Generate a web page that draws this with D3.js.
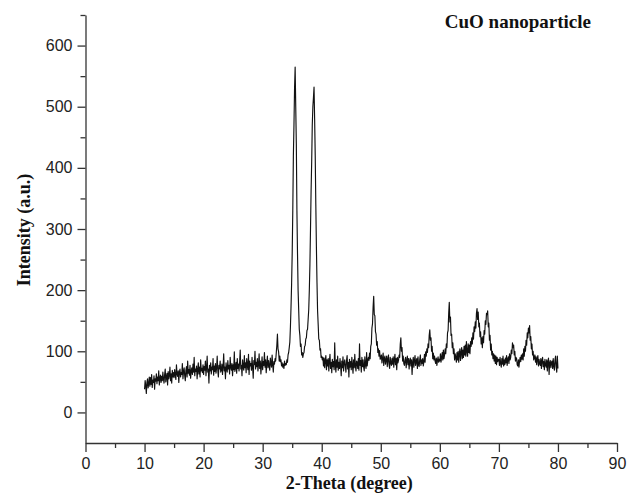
<!DOCTYPE html>
<html>
<head>
<meta charset="utf-8">
<script src="https://cdn.jsdelivr.net/npm/d3@7"></script>
<style>
  body { margin: 0; background: #fff; }
  .tick text { font-family: "Liberation Sans", Arial, sans-serif; font-size: 16px; fill: #222; }
  .axis-label { font-family: "Liberation Serif", "Times New Roman", serif; font-weight: bold; font-size: 18px; fill: #111; }
</style>
</head>
<body>
<svg width="635" height="498"></svg>
<script>
// XRD scan, 10-80 deg at 0.1 deg steps
const thetaStart = 10;
const thetaStep = 0.1;
const intensity = [
  38, 52, 44, 31, 49, 55, 40, 47, 58, 43,   // 10
  57, 46, 62, 41, 53, 49, 60, 38, 55, 51,   // 11
  63, 47, 58, 52, 68, 45, 56, 61, 49, 59,   // 12
  52, 66, 55, 48, 62, 71, 50, 58, 64, 45,   // 13
  67, 55, 61, 74, 52, 63, 48, 69, 58, 65,   // 14
  57, 70, 61, 54, 78, 63, 59, 68, 49, 66,   // 15
  71, 58, 65, 62, 80, 55, 67, 73, 60, 52,   // 16
  69, 75, 58, 84, 64, 70, 61, 77, 56, 68,   // 17
  73, 62, 79, 66, 90, 60, 71, 67, 76, 55,   // 18
  70, 81, 63, 74, 58, 86, 68, 72, 65, 78,   // 19
  62, 75, 69, 84, 60, 73, 92, 66, 71, 48,   // 20
  77, 68, 81, 63, 74, 70, 88, 61, 76, 67,   // 21
  80, 64, 73, 92, 69, 58, 77, 71, 84, 66,   // 22
  70, 79, 62, 75, 96, 68, 74, 55, 81, 72,   // 23
  66, 85, 71, 77, 63, 90, 74, 69, 80, 60,   // 24
  78, 70, 99, 67, 75, 82, 64, 88, 72, 79,   // 25
  68, 83, 102, 71, 77, 60, 86, 74, 69, 93,  // 26
  73, 81, 65, 88, 77, 70, 95, 62, 84, 76,   // 27
  80, 69, 90, 74, 56, 85, 78, 100, 71, 82,  // 28
  75, 88, 68, 79, 96, 72, 84, 63, 77, 91,   // 29
  70, 83, 77, 98, 74, 86, 65, 80, 92, 73,   // 30
  85, 76, 69, 89, 80, 74, 94, 78, 66, 83,   // 31
  79, 88, 84, 97, 110, 128, 104, 99, 84, 92, // 32
  83, 86, 76, 81, 74, 79, 72, 84, 77, 80,   // 33
  78, 86, 82, 94, 98, 106, 115, 140, 172, 210,     // 34
  260, 330, 420, 470, 530, 565, 500, 440, 330, 260, // 35
  200, 168, 136, 126, 108, 112, 94, 98, 90, 96,    // 36
  98, 108, 110, 120, 122, 134, 136, 152, 168, 200,  // 37
  242, 300, 362, 410, 470, 500, 515, 532, 480, 420, // 38
  340, 270, 212, 166, 144, 120, 118, 102, 104, 90, // 39
  92, 86, 90, 76, 89, 73, 85, 93, 70, 86,   // 40
  76, 88, 68, 84, 95, 72, 82, 65, 87, 75,   // 41
  83, 70, 114, 77, 66, 86, 74, 92, 69, 82,  // 42
  72, 88, 76, 60, 84, 73, 91, 68, 81, 86,   // 43
  75, 66, 85, 93, 71, 82, 58, 87, 74, 83,   // 44
  70, 90, 77, 64, 86, 73, 95, 76, 68, 84,   // 45
  82, 72, 88, 69, 112, 77, 85, 66, 90, 75,  // 46
  86, 74, 68, 91, 78, 72, 98, 76, 85, 90,   // 47
  85, 97, 88, 108, 112, 138, 145, 172, 190, 160, // 48
  158, 132, 128, 110, 116, 98, 104, 92, 101, 87, // 49
  90, 94, 81, 89, 97, 77, 88, 92, 79, 86,   // 50
  92, 75, 87, 94, 78, 72, 90, 81, 77, 88,   // 51
  79, 91, 74, 86, 95, 78, 88, 70, 90, 81,   // 52
  85, 94, 90, 112, 122, 100, 106, 84, 92, 80, // 53
  77, 86, 90, 73, 85, 92, 78, 88, 71, 84,   // 54
  89, 76, 86, 62, 82, 90, 74, 85, 93, 77,   // 55
  84, 88, 72, 91, 78, 75, 87, 94, 77, 86,   // 56
  80, 88, 76, 83, 95, 82, 99, 92, 104, 98,  // 57
  112, 106, 126, 135, 118, 122, 100, 108, 88, 97, // 58
  86, 92, 84, 80, 89, 77, 85, 91, 82, 87,   // 59
  84, 96, 82, 90, 98, 86, 102, 88, 94, 104, // 60
  96, 112, 106, 130, 134, 162, 180, 148, 156, 126, // 61
  128, 106, 114, 96, 104, 86, 96, 90, 82, 98,  // 62
  86, 100, 82, 96, 104, 85, 98, 106, 88, 102,  // 63
  90, 108, 94, 110, 92, 116, 100, 92, 112, 98, // 64
  110, 96, 116, 108, 122, 112, 130, 120, 140, 132, // 65
  148, 138, 162, 170, 152, 164, 140, 146, 124, 132, // 66
  112, 122, 106, 124, 114, 134, 128, 150, 144, 162, // 67
  160, 166, 140, 146, 118, 126, 102, 112, 94, 100,  // 68
  88, 96, 84, 94, 80, 92, 78, 90, 83, 87,   // 69
  87, 77, 90, 80, 74, 88, 79, 92, 76, 86,   // 70
  78, 89, 81, 93, 77, 87, 91, 80, 96, 86,   // 71
  90, 102, 96, 114, 106, 110, 94, 100, 84, 90, // 72
  88, 78, 76, 86, 74, 84, 90, 83, 94, 87,   // 73
  96, 86, 104, 92, 108, 100, 118, 110, 130, 122, // 74
  138, 130, 142, 118, 124, 104, 112, 94, 100, 86, // 75
  90, 94, 82, 91, 78, 88, 93, 76, 87, 80,   // 76
  77, 88, 72, 85, 90, 75, 83, 70, 87, 78,   // 77
  74, 86, 68, 83, 89, 62, 81, 85, 73, 82,   // 78
  84, 72, 88, 76, 69, 86, 92, 74, 66, 92,   // 79
  72                                          // 80
];

const xTicks = [0, 10, 20, 30, 40, 50, 60, 70, 80, 90];
const xMinorTicks = [5, 15, 25, 35, 45, 55, 65, 75, 85];
const yTicks = [0, 100, 200, 300, 400, 500, 600];
const yMinorTicks = [50, 150, 250, 350, 450, 550, 650];

const svg = d3.select("svg");
const margin = { top: 15, right: 18, bottom: 55, left: 85.5 };
const width = +svg.attr("width") - margin.left - margin.right;
const height = +svg.attr("height") - margin.top - margin.bottom;

const g = svg.append("g").attr("transform", `translate(${margin.left},${margin.top})`);

const x = d3.scaleLinear().domain([0, 90]).range([0, width]);
const y = d3.scaleLinear().domain([-50, 650]).range([height, 0]);

// minor ticks first, majors on top
g.append("g")
  .attr("transform", `translate(0,${height})`)
  .call(d3.axisBottom(x).tickValues(xMinorTicks).tickSize(5).tickFormat(""))
  .call(a => a.select(".domain").remove());

g.append("g")
  .call(d3.axisLeft(y).tickValues(yMinorTicks).tickSize(5).tickFormat(""))
  .call(a => a.select(".domain").remove());

g.append("g")
  .attr("transform", `translate(0,${height})`)
  .call(d3.axisBottom(x).tickValues(xTicks).tickSize(9).tickSizeOuter(0).tickPadding(6));

g.append("g")
  .call(d3.axisLeft(y).tickValues(yTicks).tickSize(8).tickSizeOuter(0).tickPadding(5));

g.selectAll(".domain, .tick line").attr("stroke", "#333").attr("stroke-width", 1.3);

const line = d3.line()
  .x((d, i) => x(thetaStart + i * thetaStep))
  .y(d => y(d));

g.append("path")
  .datum(intensity)
  .attr("fill", "none")
  .attr("stroke", "#111")
  .attr("stroke-width", 1.15)
  .attr("stroke-linejoin", "round")
  .attr("d", line);

svg.append("text")
  .attr("class", "axis-label")
  .attr("x", margin.left + width / 2 - 2)
  .attr("y", 489)
  .attr("text-anchor", "middle")
  .text("2-Theta (degree)");

svg.append("text")
  .attr("class", "axis-label")
  .attr("transform", "rotate(-90)")
  .attr("x", -230)
  .attr("y", 30)
  .attr("text-anchor", "middle")
  .text("Intensity (a.u.)");

svg.append("text")
  .attr("class", "axis-label")
  .attr("x", 591)
  .attr("y", 27.5)
  .attr("text-anchor", "end")
  .style("font-size", "19px")
  .text("CuO nanoparticle");
</script>
</body>
</html>
